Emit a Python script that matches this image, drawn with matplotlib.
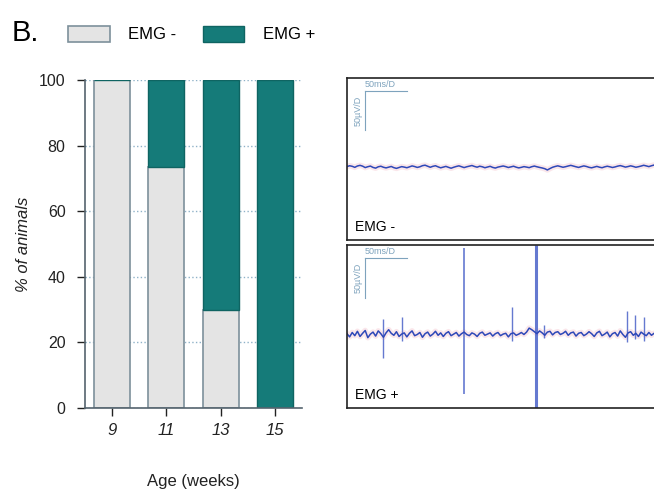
import matplotlib.pyplot as plt
from matplotlib.patches import Patch

plt.rcParams['font.family'] = ['Liberation Sans', 'DejaVu Sans']

# bar chart data
ages = [9, 11, 13, 15]
emg_neg = [100, 73.5, 30, 0]
emg_pos = [0, 26.5, 70, 100]

# EMG traces (uV), sampled evenly over the visible window
trace_t_end = 365
top_trace = [0.5, 1.5, 0.8, -0.5, 1.2, 2.0, 1.0, -0.8, 0.3, 1.1, -0.6, -1.5,
             0.2, 0.9, -0.4, -1.2, -0.3, 0.6, -0.9, -1.8, -0.7, 0.4, -0.2, -1.0,
             0.1, 1.3, 0.5, -0.6, 0.2, 1.6, 2.2, 0.9, -0.4, 0.8, 1.5, 0.1,
             -1.1, -0.2, 0.7, -0.5, -1.6, -0.4, 0.6, 1.4, 0.3, -0.8, 0.2, 1.0,
             1.8, 0.6, -0.3, 0.9, 0.2, -1.0, -0.1, 0.8, -0.6, -1.4, -0.2, 0.5,
             1.2, 0.4, -0.7, 0.1, 0.9, -0.3, -1.2, -0.5, 0.4, -0.2, -0.9, 0.3,
             1.1, 0.2, -0.6, -1.3, -2.2, -3.8, -2.0, -0.4, 0.6, 1.4, 0.5, -0.4,
             0.3, 1.2, 2.0, 1.1, 0.2, -0.6, 0.4, 1.3, 0.6, -0.5, -1.1, -0.2,
             0.7, -0.3, -1.0, 0.1, 0.9, 0.2, -0.7, 0.0, 1.0, 1.7, 0.8, -0.2,
             0.5, 1.4, 0.6, -0.4, 0.3, 1.1, 2.1, 1.3, 0.4, 1.5, 2.4, 1.2]
bottom_trace = [1.0, -3.0, 2.5, -1.5, 4.0, -2.5, 1.5, 5.0, -4.0, 0.5, 3.0, -2.0,
                4.5, 1.0, -3.5, 2.0, 6.0, 1.5, -1.0, 3.5, -2.5, 0.5, 2.0, -3.0,
                1.5, 4.5, -1.5, 0.0, 2.5, -3.5, 1.0, 3.0, -2.0, 0.5, 4.0, -1.0,
                2.0, -2.5, 1.5, 3.5, -1.5, 0.5, 2.5, -2.0, 1.0, 3.0, 0.0, -1.5,
                2.0, 0.5, -2.5, 1.5, 3.0, -1.0, 0.5, 2.0, -2.0, 1.0, 2.5, -1.5,
                0.5, 1.5, -3.0, 1.0, 2.0, -1.0, 0.5, 2.5, 0.0, 3.0, 8.0, 6.0,
                3.5, 1.0, 4.5, 2.0, -1.0, 3.0, 4.0, -0.5, 2.5, 3.5, 0.0, 1.5,
                4.0, -1.0, 2.0, 3.0, -2.0, 1.5, 2.5, -1.5, 0.5, 3.5, 1.0, -2.5,
                2.0, 4.0, -1.5, 0.5, 3.0, -3.0, 1.0, 2.5, -2.0, 4.5, 0.0, -3.5,
                2.0, 3.5, -1.0, 1.5, -2.5, 3.0, 0.5, -1.5, 2.5, -1.0, 1.5, 0.0]
spike_t = [43, 65, 138, 194, 223, 232, 330, 340, 350]
spike_lo = [-30, -8, -75, -8, -92, -4, -10, -6, -8]
spike_hi = [20, 22, 108, 35, 112, 12, 30, 25, 22]
spike_w = [1.0, 1.0, 1.2, 1.0, 2.2, 1.0, 1.0, 1.0, 1.0]

teal = '#157b79'
grey = '#e4e4e4'
axcol = '#55646e'
txtcol = '#222222'

fig = plt.figure(figsize=(6.54, 4.94), dpi=100)

# ---- stacked bars
ax = fig.add_axes([85 / 654, 1 - 408 / 494, 217 / 654, 328 / 494])
ax.bar(ages, emg_neg, width=1.33, color=grey, edgecolor='#7d909b', lw=1.2, zorder=2)
ax.bar(ages, emg_pos, width=1.33, bottom=emg_neg, color=teal, edgecolor='#0f6462',
       lw=1.0, zorder=2)
ax.set_xlim(8, 16)
ax.set_ylim(0, 100)
ax.set_xticks(ages)
ax.set_xticklabels([str(a) for a in ages], fontstyle='italic', fontsize=12)
ax.set_yticks(range(0, 101, 20))
ax.tick_params(axis='y', labelsize=11.5, colors=txtcol, length=6, width=1, pad=8)
ax.tick_params(axis='x', length=6, width=1, pad=5, colors=txtcol)
for tl in ax.get_yticklines() + ax.get_xticklines():
    tl.set_color(axcol)
ax.yaxis.grid(True, ls=':', color='#8fb2c8', lw=1.0, zorder=0)
for s in ['top', 'right']:
    ax.spines[s].set_visible(False)
for s in ['left', 'bottom']:
    ax.spines[s].set_color(axcol)
    ax.spines[s].set_linewidth(1.2)
ax.set_ylabel('% of animals', fontstyle='italic', fontsize=12, color=txtcol, labelpad=6)
ax.set_xlabel('Age (weeks)', fontsize=12, color=txtcol, labelpad=26)

handles = [Patch(facecolor=grey, edgecolor='#7d909b', lw=1.2, label='EMG -'),
           Patch(facecolor=teal, edgecolor='#0f6462', label='EMG +')]
fig.legend(handles=handles, ncol=2, loc='center left', bbox_to_anchor=(0.081, 1 - 34 / 494),
           frameon=False, fontsize=12, handlelength=2.5, handleheight=1.1,
           columnspacing=1.6, handletextpad=1.1)
fig.text(12 / 654, 1 - 33 / 494, 'B.', fontsize=21, va='center', ha='left')

# ---- EMG traces
n = len(top_trace)
t = [i * trace_t_end / (n - 1) for i in range(n)]


def trace_panel(rect, label, values, spikes=None):
    a = fig.add_axes(rect)
    a.set_xlim(0, 370)
    a.set_ylim(-92, 112)
    a.set_xticks([])
    a.set_yticks([])
    for s in a.spines.values():
        s.set_color('#222222')
        s.set_linewidth(1.2)
    a.spines['right'].set_visible(False)
    a.plot(t, values, color='#f2b8c4', lw=4, alpha=0.35)
    if spikes:
        a.vlines(spikes[0], spikes[1], spikes[2], colors='#4a62c8', lw=spikes[3], alpha=0.85)
    a.plot(t, values, color='#2e48b8', lw=1.1)
    a.plot([21, 71], [96, 96], color='#7ea3bd', lw=0.8)
    a.plot([21, 21], [96, 46], color='#7ea3bd', lw=0.8)
    a.text(21, 98, '50ms/D', color='#7ea3bd', fontsize=6.5, va='bottom', ha='left')
    a.text(13, 71, '50µV/D', color='#7ea3bd', fontsize=6.5, va='center', ha='center',
           rotation=90)
    a.text(9, -76, label, fontsize=10, va='center', ha='left')
    return a


trace_panel([347 / 654, 1 - 240 / 494, 0.48, 162 / 494], 'EMG -', top_trace)
trace_panel([347 / 654, 1 - 408 / 494, 0.48, 163 / 494], 'EMG +', bottom_trace,
            (spike_t, spike_lo, spike_hi, spike_w))

fig.savefig('out.png', dpi=100)
